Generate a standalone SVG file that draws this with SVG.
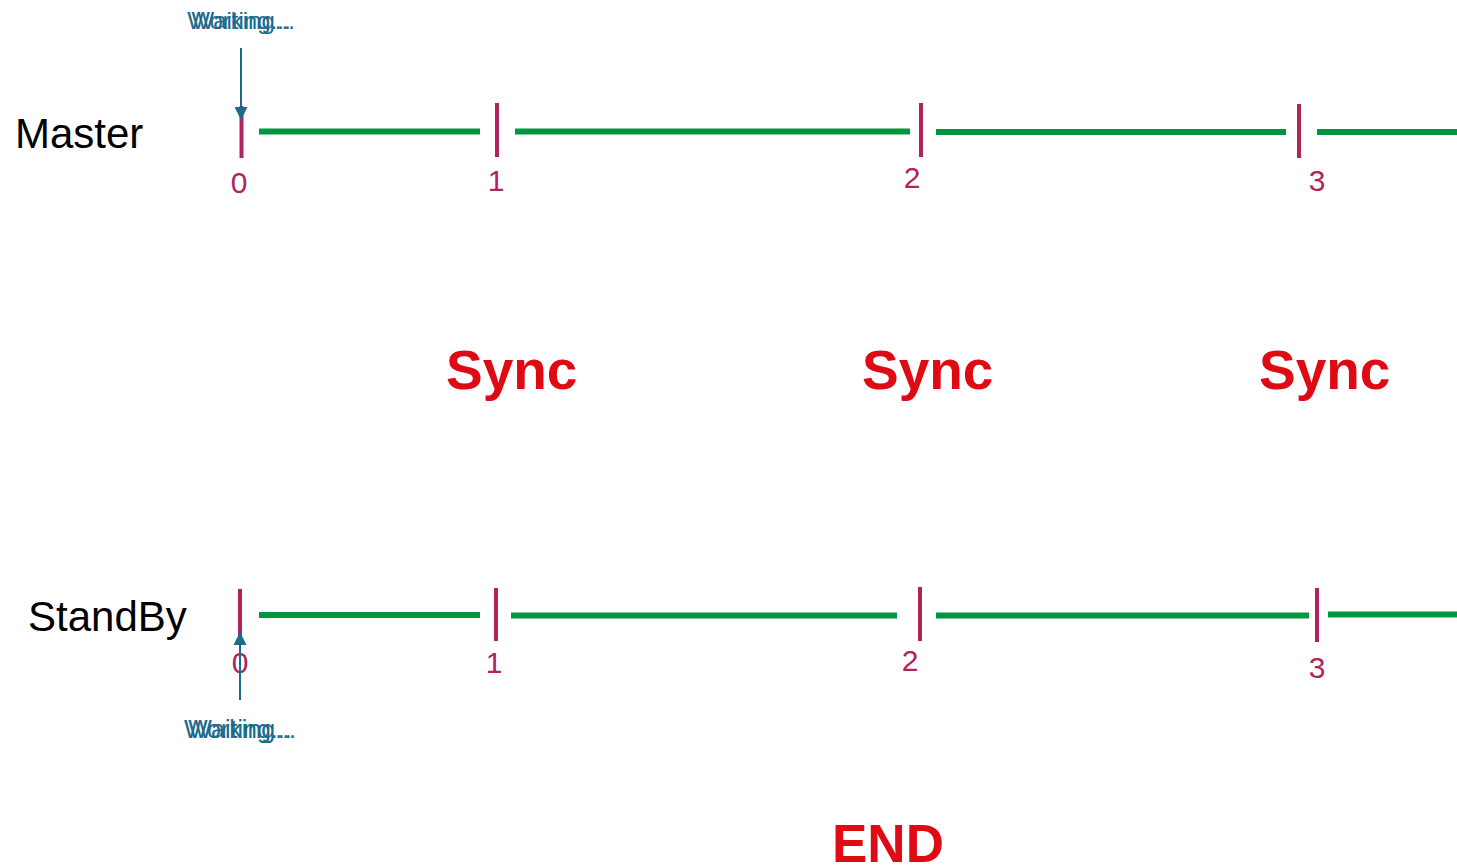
<svg xmlns="http://www.w3.org/2000/svg" width="1457" height="868" viewBox="0 0 1457 868">
  <style>
    .lane { font-family: "Liberation Sans", Arial, sans-serif; font-size: 42px; fill: #000; }
    .tick { stroke: #b0245c; stroke-width: 4; }
    .seg { stroke: #009640; stroke-width: 6; }
    .num { font-family: "Liberation Sans", Arial, sans-serif; font-size: 30px; fill: #b0245c; text-anchor: middle; }
    .big { font-family: "Liberation Sans", Arial, sans-serif; font-weight: bold; fill: #de0a14; }
    .state { font-family: "Liberation Sans", Arial, sans-serif; fill: #1b6b8c; text-anchor: middle; }
    .ptr { stroke: #1b6b8c; stroke-width: 2; fill: none; }
  </style>
  <defs>
    <marker id="head" viewBox="0 0 10 10" refX="10" refY="5" markerWidth="6.5" markerHeight="6.5" markerUnits="strokeWidth" orient="auto">
      <path d="M0,0 L10,5 L0,10 Z" fill="#1b6b8c"/>
    </marker>
  </defs>
  <rect width="1457" height="868" fill="#fff"/>

  <!-- Master timeline -->
  <g id="master">
    <text class="lane" x="15" y="148">Master</text>
    <line class="seg" x1="259" y1="131.5" x2="480" y2="131.5"/>
    <line class="seg" x1="515" y1="131.5" x2="910" y2="131.5"/>
    <line class="seg" x1="936" y1="132" x2="1286" y2="132"/>
    <line class="seg" x1="1317" y1="132" x2="1457" y2="132"/>
    <line class="tick" x1="241.5" y1="106" x2="241.5" y2="158"/>
    <line class="tick" x1="497" y1="103" x2="497" y2="157"/>
    <line class="tick" x1="921" y1="103" x2="921" y2="157"/>
    <line class="tick" x1="1299" y1="104" x2="1299" y2="158"/>
    <text class="num" x="239" y="193">0</text>
    <text class="num" x="496" y="191">1</text>
    <text class="num" x="912" y="188">2</text>
    <text class="num" x="1317" y="191">3</text>
  </g>

  <!-- StandBy timeline -->
  <g id="standby">
    <text class="lane" x="28" y="631">StandBy</text>
    <line class="seg" x1="259" y1="615" x2="480" y2="615"/>
    <line class="seg" x1="511" y1="615.5" x2="897" y2="615.5"/>
    <line class="seg" x1="936" y1="615.5" x2="1309" y2="615.5"/>
    <line class="seg" x1="1328" y1="614.5" x2="1457" y2="614.5"/>
    <line class="tick" x1="240" y1="589" x2="240" y2="642"/>
    <line class="tick" x1="496" y1="588" x2="496" y2="641"/>
    <line class="tick" x1="920" y1="587" x2="920" y2="641"/>
    <line class="tick" x1="1317" y1="588" x2="1317" y2="642"/>
    <text class="num" x="240" y="673">0</text>
    <text class="num" x="494" y="673">1</text>
    <text class="num" x="910" y="671">2</text>
    <text class="num" x="1317" y="678">3</text>
  </g>

  <!-- sync labels -->
  <g id="sync1"><text class="big" font-size="55" x="446" y="389">Sync</text></g>
  <g id="sync2"><text class="big" font-size="55" x="862" y="389">Sync</text></g>
  <g id="sync3"><text class="big" font-size="55" x="1259" y="389">Sync</text></g>
  <g id="end"><text class="big" font-size="53" x="832" y="862">END</text></g>

  <!-- state pointers: both states are drawn at the same spot -->
  <g id="master-state">
    <text class="state" font-size="24" x="241" y="29">Working...</text>
    <text class="state" font-size="24" x="241" y="29">Waiting...</text>
  </g>
  <g id="standby-state">
    <text class="state" font-size="25" x="240" y="738">Working...</text>
    <text class="state" font-size="25" x="240" y="738">Waiting...</text>
  </g>
  <g id="connectors">
    <line class="ptr" x1="241" y1="48" x2="241" y2="120" marker-end="url(#head)"/>
    <line class="ptr" x1="240" y1="700" x2="240" y2="632" marker-end="url(#head)"/>
  </g>
</svg>
